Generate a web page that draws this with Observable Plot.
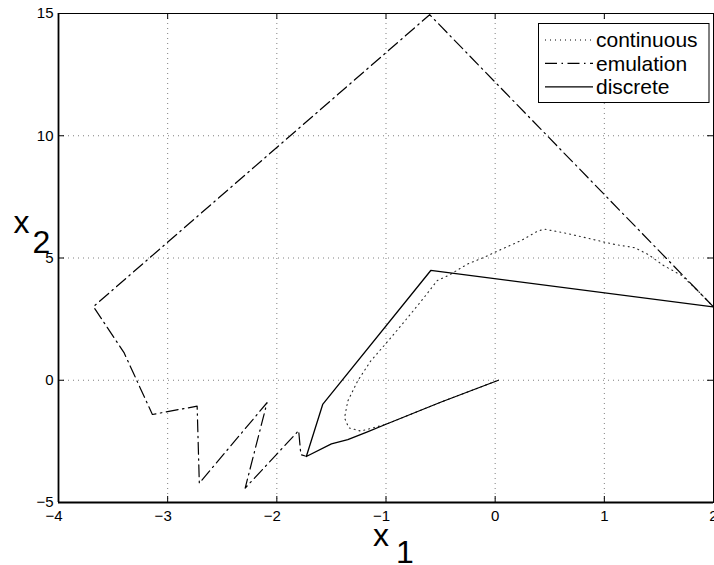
<!DOCTYPE html>
<html>
<head>
<meta charset="utf-8">
<script src="https://cdn.jsdelivr.net/npm/d3@7"></script>
<script src="https://cdn.jsdelivr.net/npm/@observablehq/plot@0.6"></script>
<style>
  html, body { margin: 0; padding: 0; background: #fff; }
</style>
</head>
<body>
<div id="chart"></div>
<script>
// ---- data ----
const xTicks = [-4, -3, -2, -1, 0, 1, 2];
const yTicks = [-5, 0, 5, 10, 15];

const continuousX = [2.0, 1.87, 1.71, 1.54, 1.40, 1.28, 1.10, 1.00, 0.80, 0.63, 0.51, 0.45, 0.39, 0.24, 0.07, 0.00, -0.10, -0.25, -0.43, -0.53, -0.65, -0.80, -0.98, -1.14, -1.26, -1.35, -1.38, -1.34, -1.23, -1.00, -0.50, 0.03];
const continuousY = [3.0, 3.6, 4.28, 4.70, 5.15, 5.42, 5.55, 5.65, 5.86, 6.03, 6.13, 6.18, 6.10, 5.72, 5.38, 5.24, 5.03, 4.76, 4.28, 4.08, 3.39, 2.57, 1.61, 0.79, -0.03, -0.85, -1.54, -1.95, -2.08, -1.80, -0.90, 0.0];

const emulationX = [2.0, -0.60, -3.68, -3.40, -3.14, -2.73, -2.71, -2.09, -2.29, -1.80, -1.78, -1.74];
const emulationY = [3.0, 14.95, 3.01, 1.13, -1.40, -1.06, -4.21, -0.92, -4.41, -2.06, -3.04, -3.10];

const discreteX = [2.0, -0.59, -1.58, -1.73, -1.50, -1.35, -1.17, -1.00, -0.50, 0.03];
const discreteY = [3.0, 4.49, -0.99, -3.12, -2.60, -2.43, -2.11, -1.80, -0.90, 0.0];

const seriesNames = ["continuous", "emulation", "discrete"];
const seriesDash = ["1,4", "12,4.5,1.5,4.5", null];

// ---- build tables ----
const toRows = (xs, ys) => xs.map((x, i) => ({x, y: ys[i]}));
const continuous = toRows(continuousX, continuousY);
const emulation = toRows(emulationX, emulationY);
const discrete = toRows(discreteX, discreteY);

const W = 714, H = 565;
const mL = 58, mR = 1, mT = 13, mB = 63;
const innerH = H - mT - mB, innerW = W - mL - mR;
const tickLen = 6;
const font = "'Liberation Sans', Arial, Helvetica, sans-serif";
const minusFmt = d => d < 0 ? "\u2212" + Math.abs(d) : String(d);

const chart = Plot.plot({
  width: W,
  height: H,
  marginLeft: mL,
  marginRight: mR,
  marginTop: mT,
  marginBottom: mB,
  x: {domain: [-4, 2]},
  y: {domain: [-5, 15]},
  style: {fontFamily: font, background: "#fff", color: "#000"},
  marks: [
    Plot.gridX(xTicks, {stroke: "#000", strokeOpacity: 0.5, strokeDasharray: "1,4"}),
    Plot.gridY(yTicks, {stroke: "#000", strokeOpacity: 0.5, strokeDasharray: "1,4"}),
    Plot.line(continuous, {x: "x", y: "y", stroke: "#000", strokeOpacity: 0.85, strokeWidth: 1.1, strokeDasharray: seriesDash[0], clip: true}),
    Plot.line(emulation, {x: "x", y: "y", stroke: "#000", strokeWidth: 1.2, strokeDasharray: seriesDash[1], clip: true}),
    Plot.line(discrete, {x: "x", y: "y", stroke: "#000", strokeWidth: 1.3, clip: true}),
    // inward ticks on all sides
    Plot.tickX(xTicks, {x: d => d, insetTop: innerH - tickLen, stroke: "#000"}),
    Plot.tickX(xTicks, {x: d => d, insetBottom: innerH - tickLen, stroke: "#000"}),
    Plot.tickY(yTicks, {y: d => d, insetRight: innerW - tickLen, stroke: "#000"}),
    Plot.tickY(yTicks, {y: d => d, insetLeft: innerW - tickLen, stroke: "#000"}),
    Plot.frame({stroke: "#000", strokeWidth: 1}),
    Plot.ruleX([-4], {stroke: "#000", strokeWidth: 1.8}),
    Plot.ruleY([-5], {stroke: "#000", strokeWidth: 1.8}),
    // tick labels
    Plot.axisX(xTicks.filter(d => d < 0), {tickSize: 0, tickPadding: 8, fontSize: 15, tickFormat: minusFmt, dx: -4.5, label: null}),
    Plot.axisX(xTicks.filter(d => d >= 0), {tickSize: 0, tickPadding: 8, fontSize: 15, tickFormat: minusFmt, label: null}),
    Plot.axisY(yTicks, {tickSize: 0, tickPadding: 5, fontSize: 15, tickFormat: minusFmt, label: null}),
    // axis labels
    Plot.text(["x"], {frameAnchor: "bottom", text: d => d, textAnchor: "start", lineAnchor: "bottom", dx: -13, dy: 43, fontSize: 32, fill: "#000"}),
    Plot.text(["1"], {frameAnchor: "bottom", text: d => d, textAnchor: "start", lineAnchor: "bottom", dx: 10, dy: 60, fontSize: 32, fill: "#000"}),
    Plot.text(["x"], {frameAnchor: "left", text: d => d, textAnchor: "start", lineAnchor: "bottom", dx: -45, dy: -25, fontSize: 32, fill: "#000"}),
    Plot.text(["2"], {frameAnchor: "left", text: d => d, textAnchor: "start", lineAnchor: "bottom", dx: -26, dy: -5, fontSize: 32, fill: "#000"})
  ]
});

// legend (inside the axes, top-right)
const svg = d3.select(chart);
const lg = svg.append("g").attr("font-family", font).attr("text-anchor", "start");
const box = {x: 538.5, y: 23.5, w: 170.5, h: 79};
lg.append("rect").attr("x", box.x).attr("y", box.y).attr("width", box.w).attr("height", box.h)
  .attr("fill", "#fff").attr("stroke", "#000").attr("stroke-width", 1);
seriesNames.forEach((name, i) => {
  const cy = 40 + i * 23.4;
  lg.append("line").attr("x1", 545).attr("x2", 593).attr("y1", cy).attr("y2", cy)
    .attr("stroke", "#000").attr("stroke-width", i === 2 ? 1.3 : 1.1)
    .attr("stroke-dasharray", seriesDash[i]);
  lg.append("text").attr("x", 596).attr("y", cy).attr("dy", "0.35em")
    .attr("text-anchor", "start")
    .attr("font-size", 21).attr("fill", "#000").text(name);
});

document.getElementById("chart").appendChild(chart);
</script>
</body>
</html>
